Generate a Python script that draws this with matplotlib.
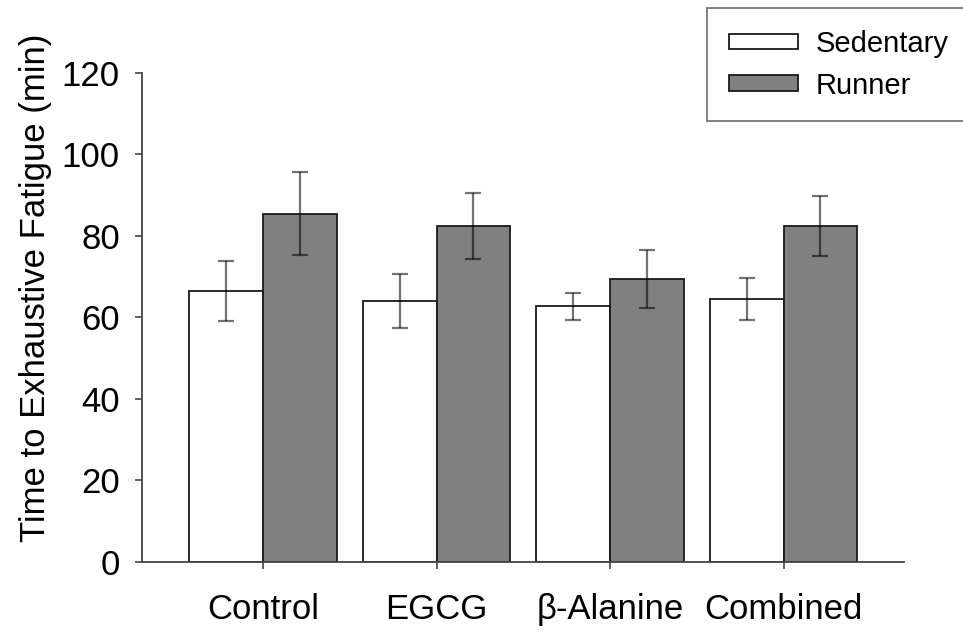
import matplotlib.pyplot as plt
import numpy as np

# Dados
grupos = ['Control', 'EGCG', 'β-Alanine', 'Combined']
sedentario = [66.5, 64.0, 62.7, 64.5]
sedentario_erro = [7.3, 6.7, 3.2, 5.1]
corredor = [85.5, 82.4, 69.4, 82.4]
corredor_erro = [10.1, 8.1, 7.1, 7.4]

plt.rcParams['font.family'] = ['Liberation Sans', 'DejaVu Sans']

fig = plt.figure(figsize=(9.63, 6.33), dpi=100)
ax = fig.add_axes([0.1475, 0.1122, 0.7912, 0.7725])

x = np.arange(len(grupos))
largura = 0.424

ax.bar(x - largura/2, sedentario, width=largura, color='white', edgecolor='#1a1a1a',
       linewidth=1.3, label='Sedentary', zorder=2)
ax.bar(x + largura/2, corredor, width=largura, color='#808080', edgecolor='#1a1a1a',
       linewidth=1.3, label='Runner', zorder=2)

ax.errorbar(x - largura/2, sedentario, yerr=sedentario_erro, fmt='none', ecolor='black',
            alpha=0.55, elinewidth=1.6, capsize=6, capthick=1.6, zorder=3)
ax.errorbar(x + largura/2, corredor, yerr=corredor_erro, fmt='none', ecolor='black',
            alpha=0.55, elinewidth=1.6, capsize=6, capthick=1.6, zorder=3)

ax.set_xlim(-0.697, 3.694)
ax.set_ylim(0, 120)
ax.set_yticks(np.arange(0, 121, 20))
ax.set_xticks(x)
ax.set_xticklabels(grupos)

for lado in ['top', 'right']:
    ax.spines[lado].set_visible(False)
for lado in ['left', 'bottom']:
    ax.spines[lado].set_color('#444444')
    ax.spines[lado].set_linewidth(1.3)

ax.tick_params(axis='both', labelsize=25, color='#444444', width=1.2, length=5)
ax.tick_params(axis='y', pad=11)
ax.tick_params(axis='x', pad=17)
ax.set_ylabel('Time to Exhaustive Fatigue (min)', fontsize=25)
ax.yaxis.set_label_coords(-0.118, 0.56)

leg = ax.legend(loc='upper left', bbox_to_anchor=(0.7415, 1.133), fontsize=21,
                frameon=True, fancybox=False, edgecolor='#555555', handlelength=2.36,
                handleheight=0.45, borderpad=0.75, labelspacing=0.47, handletextpad=0.6,
                borderaxespad=0)
leg.get_frame().set_linewidth(1.3)

fig.savefig('out.png', dpi=100)
